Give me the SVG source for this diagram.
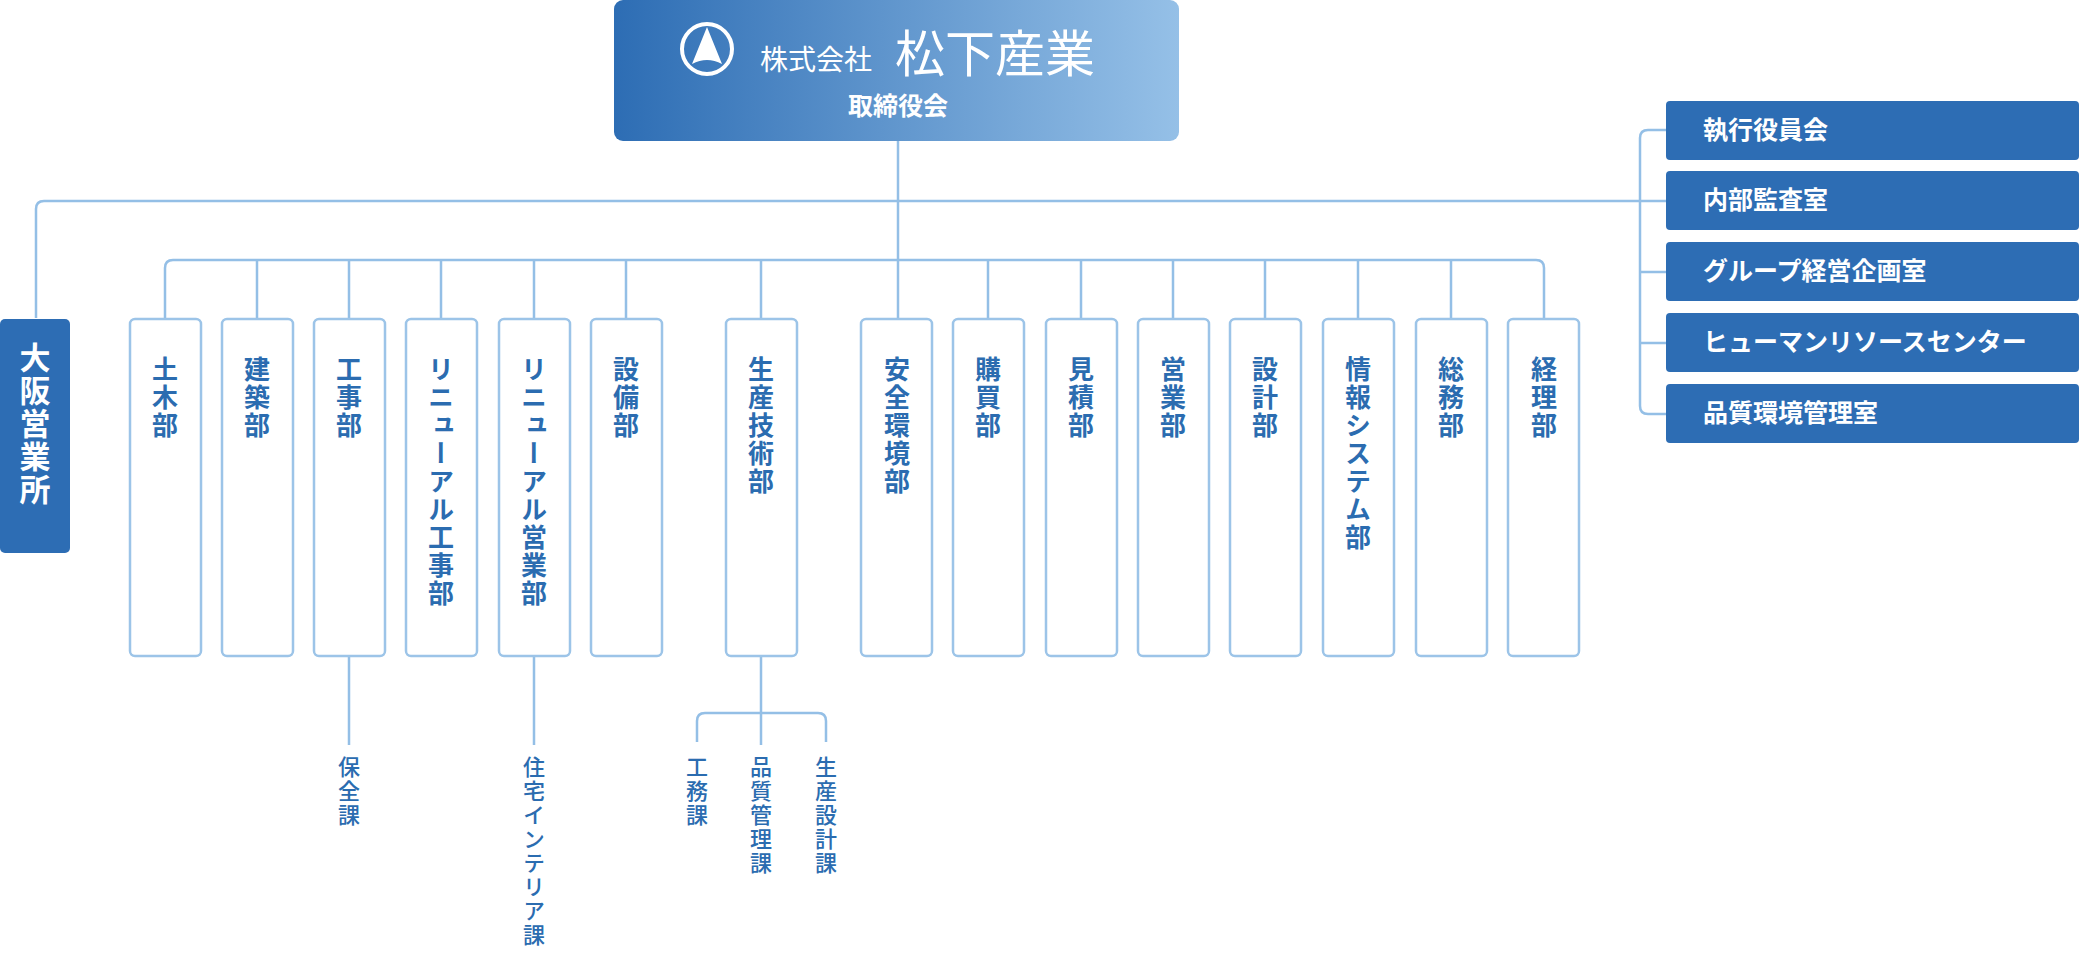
<svg xmlns="http://www.w3.org/2000/svg" width="2079" height="965" viewBox="0 0 2079 965">
<defs>
<linearGradient id="g" x1="0" y1="0" x2="1" y2="0"><stop offset="0" stop-color="#2d6db4"/><stop offset="1" stop-color="#95c0e7"/></linearGradient>
</defs>
<style>
.ln{fill:none;stroke:#94bfe6;stroke-width:2.5}
.dept{fill:#fff;stroke:#9cc4e8;stroke-width:2.5}
.dt{font-family:"Noto Sans CJK JP",sans-serif;font-weight:700;font-size:26px;fill:#2b6cb0;writing-mode:vertical-rl;letter-spacing:2px}
.st{font-family:"Noto Sans CJK JP",sans-serif;font-weight:500;font-size:22px;fill:#2b6cb0;writing-mode:vertical-rl;letter-spacing:2px}
.rb{fill:#2d6db4}
.rt{font-family:"Noto Sans CJK JP",sans-serif;font-weight:700;font-size:25px;fill:#fff}
</style>
<g id="connectors">
<path class="ln" d="M898 141V319"/>
<path class="ln" d="M36 318V209Q36 201 44 201H1666"/>
<path class="ln" d="M1666 130H1648Q1640 130 1640 138V406Q1640 414 1648 414H1666M1640 272H1666M1640 343H1666"/>
<path class="ln" d="M165 319V268Q165 260 173 260H1536Q1544 260 1544 268V319"/>
<path class="ln" d="M257 260V319M349 260V319M441 260V319M534 260V319M626 260V319M761 260V319M988 260V319M1081 260V319M1173 260V319M1265 260V319M1358 260V319M1451 260V319"/>
<path class="ln" d="M349 656V745M534 656V745M761 656V745M697 742V721Q697 713 705 713H818Q826 713 826 721V742"/>
</g>
<g id="top">
<rect x="614" y="0" width="565" height="141" rx="9" fill="url(#g)"/>
<circle cx="707" cy="49" r="25" fill="none" stroke="#fff" stroke-width="4"/>
<path d="M707 27L692 64Q707 56 722 64Z" fill="#fff"/>
<text x="760" y="70" font-family="Noto Sans CJK JP,sans-serif" font-size="28" fill="#fff">株式会社</text>
<text x="895" y="72" font-family="Noto Sans CJK JP,sans-serif" font-size="50" fill="#fff">松下産業</text>
<text x="898" y="115" text-anchor="middle" font-family="Noto Sans CJK JP,sans-serif" font-weight="700" font-size="25" fill="#fff">取締役会</text>
</g>
<g id="osaka"><rect x="0" y="319" width="70" height="234" rx="5" fill="#2d6db4"/><text x="35" y="342" class="dt" style="fill:#fff;font-size:31px">大阪営業所</text></g>
<g id="d1"><rect class="dept" x="130" y="319" width="71" height="337" rx="5"/><text class="dt" x="165" y="356">土木部</text></g>
<g id="d2"><rect class="dept" x="222" y="319" width="71" height="337" rx="5"/><text class="dt" x="257" y="356">建築部</text></g>
<g id="d3"><rect class="dept" x="314" y="319" width="71" height="337" rx="5"/><text class="dt" x="349" y="356">工事部</text></g>
<g id="d4"><rect class="dept" x="406" y="319" width="71" height="337" rx="5"/><text class="dt" x="441" y="356">リニューアル工事部</text></g>
<g id="d5"><rect class="dept" x="499" y="319" width="71" height="337" rx="5"/><text class="dt" x="534" y="356">リニューアル営業部</text></g>
<g id="d6"><rect class="dept" x="591" y="319" width="71" height="337" rx="5"/><text class="dt" x="626" y="356">設備部</text></g>
<g id="d7"><rect class="dept" x="726" y="319" width="71" height="337" rx="5"/><text class="dt" x="761" y="356">生産技術部</text></g>
<g id="d8"><rect class="dept" x="861" y="319" width="71" height="337" rx="5"/><text class="dt" x="897" y="356">安全環境部</text></g>
<g id="d9"><rect class="dept" x="953" y="319" width="71" height="337" rx="5"/><text class="dt" x="988" y="356">購買部</text></g>
<g id="d10"><rect class="dept" x="1046" y="319" width="71" height="337" rx="5"/><text class="dt" x="1081" y="356">見積部</text></g>
<g id="d11"><rect class="dept" x="1138" y="319" width="71" height="337" rx="5"/><text class="dt" x="1173" y="356">営業部</text></g>
<g id="d12"><rect class="dept" x="1230" y="319" width="71" height="337" rx="5"/><text class="dt" x="1265" y="356">設計部</text></g>
<g id="d13"><rect class="dept" x="1323" y="319" width="71" height="337" rx="5"/><text class="dt" x="1358" y="356">情報システム部</text></g>
<g id="d14"><rect class="dept" x="1416" y="319" width="71" height="337" rx="5"/><text class="dt" x="1451" y="356">総務部</text></g>
<g id="d15"><rect class="dept" x="1508" y="319" width="71" height="337" rx="5"/><text class="dt" x="1544" y="356">経理部</text></g>
<g id="s1"><text class="st" x="349" y="756">保全課</text></g>
<g id="s2"><text class="st" x="534" y="756">住宅インテリア課</text></g>
<g id="s3"><text class="st" x="697" y="756">工務課</text></g>
<g id="s4"><text class="st" x="761" y="756">品質管理課</text></g>
<g id="s5"><text class="st" x="826" y="756">生産設計課</text></g>
<g id="r1"><rect class="rb" x="1666" y="101" width="413" height="59" rx="4"/><text class="rt" x="1703" y="139">執行役員会</text></g>
<g id="r2"><rect class="rb" x="1666" y="171" width="413" height="59" rx="4"/><text class="rt" x="1703" y="209">内部監査室</text></g>
<g id="r3"><rect class="rb" x="1666" y="242" width="413" height="59" rx="4"/><text class="rt" x="1703" y="280">グループ経営企画室</text></g>
<g id="r4"><rect class="rb" x="1666" y="313" width="413" height="59" rx="4"/><text class="rt" x="1703" y="351">ヒューマンリソースセンター</text></g>
<g id="r5"><rect class="rb" x="1666" y="384" width="413" height="59" rx="4"/><text class="rt" x="1703" y="422">品質環境管理室</text></g>
</svg>
